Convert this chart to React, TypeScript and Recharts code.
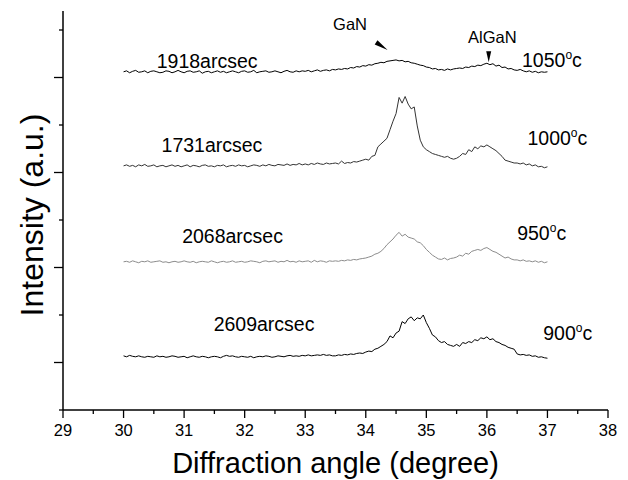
import React from 'react';
import { LineChart, Line, XAxis, YAxis, ReferenceDot, Label } from 'recharts';

// scan grid: 30.00 .. 37.00 degrees in 0.05 steps
const angles = Array.from({ length: 141 }, (_, i) => Number((30 + i * 0.05).toFixed(2)));

// intensities above each curve's own baseline
const int1050 = [
  0, 1, -1, 0.5, 1.5, -0.5, 0, 1, -1, 0.5,
  1, 0, -1, -0.5, 1, 0.5, -1, 0, 1.5, 0,
  -1, 0.5, 1, -0.5, 0, 1, -1.5, 0, 0.5, -1,
  0, 1, -0.5, 0.5, -1, 0, 1, 0, -1, 0.5,
  1, -0.5, 0, 1.5, -1, 0, 0.5, 1, -0.5, 0,
  1, 0, -1, 0.5, 1.5, 0, -0.5, 1, 0, 1,
  0.5, 1.5, 0, 1, 2, 0.5, 1.5, 2, 1, 2.5,
  2, 3, 2.5, 3.5, 3, 4.5, 4, 5.5, 5, 6.5,
  6, 7.5, 7, 8.5, 9, 10, 9.5, 11, 11.5, 12,
  12.5, 11.5, 12, 10.5, 11, 9.5, 9, 8, 7, 6.5,
  5, 4.5, 3, 3.5, 2, 2.5, 1.5, 3, 2, 3,
  3.5, 4, 3.5, 5, 4.5, 6, 5.5, 7, 6.5, 8,
  9, 7.5, 8.5, 6, 7, 4.5, 5, 3, 3.5, 2,
  1.5, 2.5, 1, 0, 1, -0.5, 0.5, -1, 0, -0.5, 0,
];

const int1000 = [
  0, 1, -0.5, 0.5, -1, 1, 0, 1.5, -0.5, 0,
  1, -1, 0, 0.5, -1, 0, 1, -0.5, 0.5, -1,
  0, 1, -1, 0.5, 0, -1, 0.5, 1, -0.5, 0,
  -1, 0.5, 0, 1, -1, 0, 0.5, -0.5, 1, 0,
  0.5, -1, 0, 1, 0.5, -0.5, 1, 0, 1.5, 0.5,
  0, 1.5, 1, 0.5, 2, 0.5, 1.5, 1, 2.5, 1,
  2, 1, 2.5, 1.5, 3, 2, 1.5, 3, 2, 2.5,
  3, 2, 5, 2.5, 3.5, 3, 4.5, 4, 5, 6,
  7, 6, 10, 11, 20, 23, 26, 29, 38, 47,
  55, 72, 66, 73, 65, 60, 62, 42, 27, 20,
  17, 15, 13, 12, 11, 10, 9, 10, 8, 7,
  8, 10, 13, 12, 17, 15, 20, 18, 21, 20,
  22, 20, 18, 16, 13, 10, 6, 5, 4, 3,
  3, 2, 3, 1, 2, 0, 1, -1, -0.5, -2, -1,
];

const int950 = [
  0, 0.5, -0.5, 1, 0, -1, 0.5, 0, 1, -0.5,
  0, 0.5, 1, -0.5, 0, -1, 0, 0.5, -0.5, 0,
  1, 0, -0.5, 0.5, -1, 0, 0.5, 0, -0.5, 1,
  0, -1, 0, 0.5, -0.5, 0, 1, -0.5, 0, 0.5,
  -0.5, 0, 1, 0.5, 0, -1, 0.5, 1, 0, 0.5,
  1, -0.5, 0.5, 0, 1.5, 0, 0.5, -0.5, 1, 0,
  0.5, 1, -0.5, 1.5, 0, 1, 0.5, -0.5, 1, 0.5,
  1, 0.5, 1.5, 1, 2, 1.5, 2.5, 2, 3, 3.5,
  4, 5, 6, 8, 9, 11, 14, 18, 21, 24,
  28, 31, 27, 29, 26, 25, 24, 21, 20, 17,
  13, 10, 7, 5, 3, 2.5, 4, 2, 3.5, 4,
  5, 7, 6, 9, 8, 11, 12, 13, 12, 14,
  15, 13, 11, 10, 8, 6, 4, 5, 3, 2,
  2, 1, 2, 0.5, 1, 0, 1, -0.5, 0.5, -1, 0,
];

const int900 = [
  1, 0, 1.5, 0.5, 0, 1, 0, -0.5, 0.5, 0,
  -0.5, 1, 0, 0.5, -0.5, 0, 1, 0.5, -0.5, 0,
  0.5, -1, 0, 1, 0, -0.5, 0.5, 0, -1, 0,
  0.5, 0, -1, 0.5, 1.5, 0.5, 1, 0, -0.5, 0.5,
  0, -0.5, 0.5, -1, 0, 0.5, 0, 1, 0.5, -0.5,
  0, 1, 0.5, 0, 1, 1.5, 0.5, 1, 0.5, 1.5,
  1, 2, 1, 1.5, 2, 1.5, 2.5, 1.5, 2, 1,
  1, 2, 1.5, 2.5, 2, 3, 2.5, 3.5, 4, 3.5,
  5, 6, 5.5, 8, 9, 11, 13, 16, 22, 20,
  25, 27, 37, 35, 40, 42, 38, 41, 40, 44,
  36, 30, 23, 21, 17, 15, 16, 13, 12, 11,
  13, 11, 15, 14, 16, 15, 18, 17, 20, 19,
  21, 18, 19, 16, 15, 13, 12, 10, 9, 8,
  3, 2, 2.5, 1.5, 2, 0.5, 1, -0.5, 0, -1, -1.5,
];

const seriesKeys = ['t1050', 't1000', 't950', 't900'];
const seriesOffsets = [356, 257, 156, 56];
const seriesColors = ['#000000', '#333333', '#8c8c8c', '#000000'];

const fwhmLabels = ['1918arcsec', '1731arcsec', '2068arcsec', '2609arcsec'];
const fwhmAngles = [31.38, 31.46, 31.8, 32.32];
const fwhmLevels = [360, 272, 176, 83];

const tempLabels = ['1050', '1000', '950', '900'];
const tempAngles = [36.58, 36.67, 36.5, 36.93];
const tempLevels = [361, 279, 179, 74];

const peakLabels = ['GaN', 'AlGaN'];
const peakLabelAngles = [33.74, 36.09];
const peakLabelLevels = [400, 386];
const peakArrowAngles = [34.36, 36.03];
const peakArrowLevels = [379, 366];

const xTicks = [29, 29.5, 30, 30.5, 31, 31.5, 32, 32.5, 33, 33.5, 34, 34.5, 35, 35.5, 36, 36.5, 37, 37.5, 38];
const yTicks = [0, 50, 100, 150, 200, 250, 300, 350, 400];
const yMajor = [50, 150, 250, 350];

const intensities = [int1050, int1000, int950, int900];

const data = angles.map((angle, i) => {
  const row: Record<string, number> = { angle };
  seriesKeys.forEach((k, s) => {
    row[k] = seriesOffsets[s] + intensities[s][i];
  });
  return row;
});

const FONT = 'Liberation Sans, Arial, sans-serif';

const BottomTick = ({ x, y, payload }: any) => {
  const major = Number.isInteger(payload.value);
  return (
    <g>
      <line x1={x} x2={x} y1={y} y2={y + (major ? 8 : 4)} stroke="#000" strokeWidth={1.3} />
      {major && (
        <text x={x} y={y + 26} textAnchor="middle" fontSize={16.5} fontFamily={FONT} fill="#000">
          {payload.value}
        </text>
      )}
    </g>
  );
};

const TopTick = ({ x, y }: any) => (
  <line x1={x} x2={x} y1={y} y2={y + 5} stroke="#000" strokeWidth={1.3} />
);

const LeftTick = ({ x, y, payload }: any) => {
  const major = yMajor.includes(payload.value);
  return <line x1={x} x2={x - (major ? 9 : 4)} y1={y} y2={y} stroke="#000" strokeWidth={1.3} />;
};

const RightTick = ({ x, y }: any) => (
  <line x1={x} x2={x - 5} y1={y} y2={y} stroke="#000" strokeWidth={1.3} />
);

const XTitle = ({ viewBox }: any) => (
  <text
    x={viewBox.x + viewBox.width / 2}
    y={viewBox.y + 63}
    textAnchor="middle"
    fontSize={29}
    fontFamily={FONT}
    fill="#000"
  >
    Diffraction angle (degree)
  </text>
);

const YTitle = ({ viewBox }: any) => {
  const cx = viewBox.x + 32;
  const cy = 215;
  return (
    <text
      x={cx}
      y={cy}
      transform={`rotate(-90, ${cx}, ${cy})`}
      textAnchor="middle"
      dominantBaseline="central"
      fontSize={32}
      fontFamily={FONT}
      fill="#000"
    >
      Intensity (a.u.)
    </text>
  );
};

export default function App() {
  return (
    <div style={{ position: 'absolute', left: 0, top: 0, width: 628, height: 480, background: '#fff' }}>
      <LineChart width={628} height={480} data={data} margin={{ top: 11, right: 20, bottom: 0, left: 0 }}>
        <XAxis
          dataKey="angle"
          type="number"
          domain={[29, 38]}
          ticks={xTicks}
          interval={0}
          height={70}
          tickSize={0}
          tickMargin={0}
          tick={<BottomTick />}
          axisLine={{ stroke: '#000', strokeWidth: 1.5 }}
          allowDataOverflow
        >
          <Label content={<XTitle />} />
        </XAxis>
        <XAxis
          xAxisId="top"
          orientation="top"
          dataKey="angle"
          type="number"
          domain={[29, 38]}
          ticks={xTicks}
          interval={0}
          height={0}
          tickSize={0}
          tickMargin={0}
          tick={<TopTick />}
          axisLine={{ stroke: '#000', strokeWidth: 1.5 }}
          allowDataOverflow
        />
        <YAxis
          type="number"
          domain={[0, 420]}
          ticks={yTicks}
          interval={0}
          width={63}
          tickSize={0}
          tickMargin={0}
          tick={<LeftTick />}
          axisLine={{ stroke: '#000', strokeWidth: 1.5 }}
          allowDataOverflow
        >
          <Label content={<YTitle />} />
        </YAxis>
        <YAxis
          yAxisId="right"
          orientation="right"
          type="number"
          domain={[0, 420]}
          ticks={yTicks}
          interval={0}
          width={0}
          tickSize={0}
          tickMargin={0}
          tick={<RightTick />}
          axisLine={{ stroke: '#000', strokeWidth: 1.5 }}
          allowDataOverflow
        />
        {seriesKeys.map((k, s) => (
          <Line
            key={k}
            dataKey={k}
            type="linear"
            stroke={seriesColors[s]}
            strokeWidth={1}
            dot={false}
            isAnimationActive={false}
          />
        ))}
        {fwhmLabels.map((t, i) => (
          <ReferenceDot
            key={t}
            x={fwhmAngles[i]}
            y={fwhmLevels[i]}
            r={1}
            shape={(p: any) => (
              <text x={p.cx} y={p.cy} textAnchor="middle" fontSize={19.5} fontFamily={FONT} fill="#000">
                {t}
              </text>
            )}
          />
        ))}
        {tempLabels.map((t, i) => (
          <ReferenceDot
            key={t}
            x={tempAngles[i]}
            y={tempLevels[i]}
            r={1}
            shape={(p: any) => (
              <text x={p.cx} y={p.cy} textAnchor="start" fontSize={19.5} fontFamily={FONT} fill="#000">
                {t}
                <tspan dy={-8} fontSize={12}>o</tspan>
                <tspan dy={8}>c</tspan>
              </text>
            )}
          />
        ))}
        {peakLabels.map((t, i) => (
          <ReferenceDot
            key={t}
            x={peakLabelAngles[i]}
            y={peakLabelLevels[i]}
            r={1}
            shape={(p: any) => (
              <text x={p.cx} y={p.cy} textAnchor="middle" fontSize={16.5} fontFamily={FONT} fill="#000">
                {t}
              </text>
            )}
          />
        ))}
        <ReferenceDot
          x={peakArrowAngles[0]}
          y={peakArrowLevels[0]}
          r={1}
          shape={(p: any) => (
            <polygon
              points={`${p.cx},${p.cy} ${p.cx - 10.1},${p.cy - 9.6} ${p.cx - 12.9},${p.cy - 5.4}`}
              fill="#000"
            />
          )}
        />
        <ReferenceDot
          x={peakArrowAngles[1]}
          y={peakArrowLevels[1]}
          r={1}
          shape={(p: any) => (
            <polygon
              points={`${p.cx},${p.cy} ${p.cx - 2.5},${p.cy - 11} ${p.cx + 2.5},${p.cy - 11}`}
              fill="#000"
            />
          )}
        />
      </LineChart>
    </div>
  );
}
